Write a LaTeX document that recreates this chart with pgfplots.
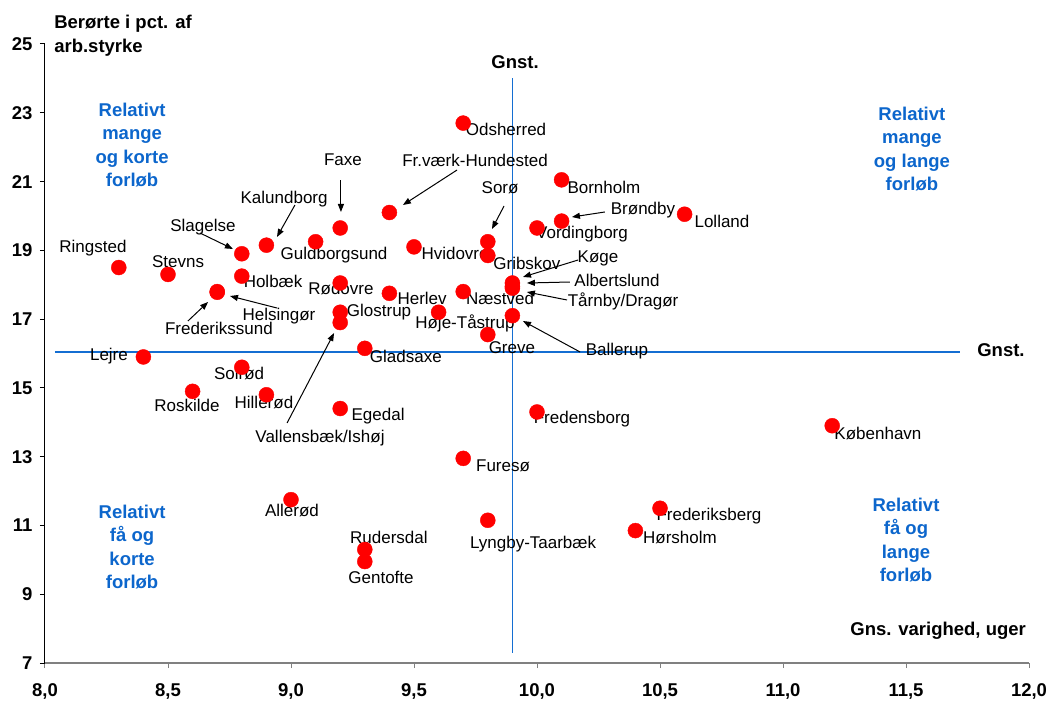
\documentclass[border=0pt]{standalone}
\usepackage{pgfplots}
\pgfplotsset{compat=1.18}
\usepackage{fontspec}
\setmainfont{Liberation Sans}
\usetikzlibrary{arrows.meta}
\definecolor{qblue}{RGB}{12,102,204}
\definecolor{lblue}{RGB}{20,110,210}
\tikzset{
  lab/.style={font=\fontsize{17}{20}\selectfont, inner sep=0pt},
  quad/.style={font=\fontsize{18.5}{23.3}\selectfont\bfseries, text=qblue, align=center, inner sep=0pt},
  ttl/.style={font=\fontsize{18.5}{24}\selectfont\bfseries, inner sep=0pt},
  arr/.style={-{Triangle[length=8pt,width=6pt]}, line width=1pt, black},
}
\begin{document}
\begin{tikzpicture}
\begin{axis}[
  scale only axis, width=984pt, height=619pt,
  xmin=8, xmax=12, ymin=7, ymax=25,
  clip=false,
  axis x line*=bottom, axis y line*=left,
  x axis line style={-, draw=gray, line width=1.3pt},
  y axis line style={-, draw=black, line width=1pt},
  xtick={8,8.5,...,12}, ytick={7,9,...,25},
  tick align=outside, major tick length=5pt,
  x tick style={gray, line width=1pt}, y tick style={black, line width=1pt},
  xticklabel={\fontsize{18.5}{20}\selectfont\bfseries\pgfmathprintnumber[fixed,fixed zerofill,precision=1,use comma,assume math mode=true]{\tick}},
  yticklabel={\fontsize{18.5}{20}\selectfont\bfseries\pgfmathprintnumber[fixed,precision=0,assume math mode=true]{\tick}},
  xticklabel style={yshift=-12pt},
  yticklabel style={xshift=-4pt},
]
% reference lines (averages)
\addplot[lblue, line width=1.5pt] coordinates {(9.9,7.3) (9.9,24.0)};
\addplot[lblue, line width=1.5pt] coordinates {(8.04,16.05) (11.72,16.05)};
% municipalities
\addplot[only marks, mark=*, mark size=7.5pt, mark options={draw=red, fill=red}] coordinates {
(8.3,18.5) (8.5,18.3) (8.4,15.9) (8.7,17.8) (8.7,17.78) (8.8,18.9) (8.8,18.25)
(8.8,15.6) (8.6,14.9) (8.9,14.8) (8.9,19.15) (9.1,19.25) (9.2,19.65) (9.2,18.05)
(9.2,17.2) (9.2,16.9) (9.2,14.4) (9.3,16.15) (9.3,10.3) (9.3,9.95) (9.4,20.1)
(9.4,17.75) (9.5,19.1) (9.6,17.2) (9.7,22.7) (9.7,17.8) (9.7,12.95) (9.8,19.25)
(9.8,18.85) (9.8,16.55) (9.8,11.15) (9.9,18.05) (9.9,17.95) (9.9,17.9) (9.9,17.1)
(10.0,19.65) (10.0,14.3) (10.1,21.05) (10.1,19.85) (10.4,10.85) (10.5,11.5)
(10.6,20.05) (11.2,13.9) (9.0,11.75)
};
% labels
\node[lab] at (axis cs:8.195,19.068) {Ringsted};
\node[lab] at (axis cs:8.541,18.661) {Stevns};
\node[lab] at (axis cs:8.927,18.108) {Holbæk};
\node[lab] at (axis cs:8.951,17.090) {Helsingør};
\node[lab] at (axis cs:8.707,16.741) {Frederikssund};
\node[lab] at (axis cs:8.260,15.927) {Lejre};
\node[lab] at (axis cs:8.789,15.404) {Solrød};
\node[lab] at (axis cs:8.577,14.502) {Roskilde};
\node[lab] at (axis cs:8.890,14.561) {Hillerød};
\node[lab] at (axis cs:9.118,13.543) {Vallensbæk/Ishøj};
\node[lab] at (axis cs:8.642,19.678) {Slagelse};
\node[lab] at (axis cs:8.972,20.493) {Kalundborg};
\node[lab] at (axis cs:9.211,21.627) {Faxe};
\node[lab] at (axis cs:9.748,21.627) {Fr.værk-Hundested};
\node[lab] at (axis cs:9.874,22.528) {Odsherred};
\node[lab] at (axis cs:9.850,20.813) {Sorø};
\node[lab] at (axis cs:10.272,20.842) {Bornholm};
\node[lab] at (axis cs:10.431,20.173) {Brøndby};
\node[lab] at (axis cs:10.183,19.475) {Vordingborg};
\node[lab] at (axis cs:10.752,19.853) {Lolland};
\node[lab] at (axis cs:9.175,18.864) {Guldborgsund};
\node[lab] at (axis cs:9.667,18.922) {Hvidovre};
\node[lab] at (axis cs:9.959,18.632) {Gribskov};
\node[lab] at (axis cs:10.248,18.777) {Køge};
\node[lab] at (axis cs:10.325,18.137) {Albertslund};
\node[lab] at (axis cs:10.350,17.527) {Tårnby/Dragør};
\node[lab] at (axis cs:9.203,17.876) {Rødovre};
\node[lab] at (axis cs:9.533,17.614) {Herlev};
\node[lab] at (axis cs:9.850,17.614) {Næstved};
\node[lab] at (axis cs:9.358,17.207) {Glostrup};
\node[lab] at (axis cs:9.707,16.887) {Høje-Tåstrup};
\node[lab] at (axis cs:9.898,16.160) {Greve};
\node[lab] at (axis cs:10.325,16.073) {Ballerup};
\node[lab] at (axis cs:9.467,15.927) {Gladsaxe};
\node[lab] at (axis cs:9.354,14.183) {Egedal};
\node[lab] at (axis cs:10.183,14.095) {Fredensborg};
\node[lab] at (axis cs:9.862,12.729) {Furesø};
\node[lab] at (axis cs:9.398,10.664) {Rudersdal};
\node[lab] at (axis cs:9.984,10.460) {Lyngby-Taarbæk};
\node[lab] at (axis cs:9.366,9.501) {Gentofte};
\node[lab] at (axis cs:10.699,11.275) {Frederiksberg};
\node[lab] at (axis cs:10.581,10.635) {Hørsholm};
\node[lab] at (axis cs:11.386,13.688) {København};
\node[lab] at (axis cs:9.004,11.449) {Allerød};
% arrows
\draw[arr] (axis cs:8.630,19.504) -- (axis cs:8.764,19.039);
\draw[arr] (axis cs:9.016,20.318) -- (axis cs:8.943,19.388);
\draw[arr] (axis cs:9.203,21.045) -- (axis cs:9.203,20.115);
\draw[arr] (axis cs:9.675,21.336) -- (axis cs:9.455,20.318);
\draw[arr] (axis cs:9.866,20.289) -- (axis cs:9.817,19.620);
\draw[arr] (axis cs:10.276,20.115) -- (axis cs:10.142,19.969);
\draw[arr] (axis cs:10.167,18.719) -- (axis cs:9.943,18.225);
\draw[arr] (axis cs:10.134,18.079) -- (axis cs:9.959,18.050);
\draw[arr] (axis cs:10.122,17.556) -- (axis cs:9.959,17.788);
\draw[arr] (axis cs:10.175,16.044) -- (axis cs:9.943,16.945);
\draw[arr] (axis cs:8.943,17.323) -- (axis cs:8.752,17.672);
\draw[arr] (axis cs:8.581,16.945) -- (axis cs:8.663,17.498);
\draw[arr] (axis cs:8.984,13.979) -- (axis cs:9.175,16.596);
% quadrant texts
\node[quad] at (axis cs:8.354,22.063) {Relativt\\mange\\og korte\\forløb};
\node[quad] at (axis cs:11.524,21.947) {Relativt\\mange\\og lange\\forløb};
\node[quad] at (axis cs:8.354,10.373) {Relativt\\få og\\korte\\forløb};
\node[quad] at (axis cs:11.500,10.577) {Relativt\\få og\\lange\\forløb};
% titles
\node[ttl, anchor=west, align=left] at (axis cs:8.037,25.233) {Berørte i pct. af\\arb.styrke};
\node[ttl, anchor=east] at (axis cs:11.988,7.931) {Gns. varighed, uger};
\node[ttl] at (axis cs:9.911,24.476) {Gnst.};
\node[ttl] at (axis cs:11.886,16.102) {Gnst.};
\coordinate (bl) at (rel axis cs:0,0);
\coordinate (tr) at (rel axis cs:1,1);
\end{axis}
\pgfresetboundingbox
\path[use as bounding box] (bl) ++(-45pt,-39pt) rectangle ([shift={(18pt,44pt)}]tr);
\end{tikzpicture}
\end{document}
